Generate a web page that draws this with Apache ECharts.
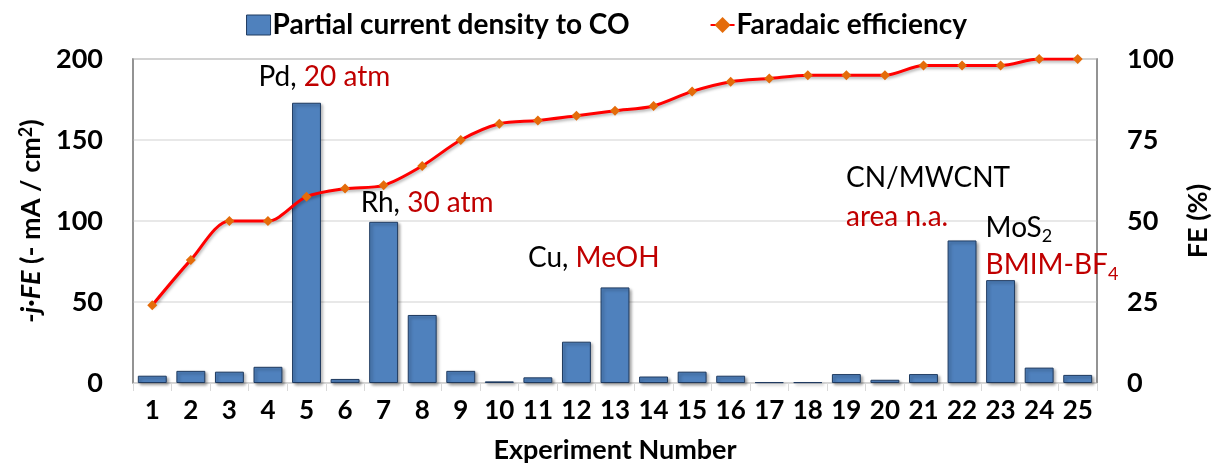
<!DOCTYPE html>
<html><head><meta charset="utf-8">
<script src="https://cdn.jsdelivr.net/npm/echarts@6/dist/echarts.min.js"></script>
<style>html,body{margin:0;padding:0;background:#fff}#c{width:1213px;height:463px}</style>
</head><body><div id="c"></div>
<script>
const categories = ['1','2','3','4','5','6','7','8','9','10','11','12','13','14','15','16','17','18','19','20','21','22','23','24','25'];
const currentDensity = [4.5,7.5,7,10,173,2.5,99.5,42,7.5,1,3.5,25.5,59,4,7,4.5,0.5,0.5,5.5,2,5.5,88,63.5,9.5,5];
const faradaicEff = [24,38,50,50,57.5,60,61,67,75,80,81,82.5,84,85.5,90,93,94,95,95,95,98,98,98,100,100];
const leftTicks = {min:0, max:200, interval:50};
const rightTicks = {min:0, max:100, interval:25};
const FONT = 'Lato, "Open Sans", sans-serif';
const RED = '#C00000';
const FS = 27;

const chart = echarts.init(document.getElementById('c'));
chart.setOption({
  animation:false,
  textStyle:{fontFamily:FONT},
  legend:{
    top:6, left:'center', itemGap:80, itemWidth:24, itemHeight:20,
    textStyle:{fontSize:28, fontWeight:'bold', color:'#000', fontFamily:FONT, padding:[0,0,0,-3]},
    data:[{name:'Partial current density to CO', icon:'rect', itemStyle:{borderColor:'#1f3a5f',borderWidth:1}},
          {name:'Faradaic efficiency'}]
  },
  grid:{left:133, right:116, top:59, bottom:80, containLabel:false, outerBoundsMode:'none',
    show:true, borderColor:'#8c8c8c', borderWidth:1.5},
  xAxis:{
    type:'category', data:categories,
    name:'Experiment Number', nameLocation:'middle', nameGap:54,
    nameTextStyle:{fontSize:FS, fontWeight:'bold', color:'#000', fontFamily:FONT},
    axisLine:{lineStyle:{color:'#d9d9d9'}},
    axisTick:{show:true, length:8, lineStyle:{color:'#d9d9d9'}},
    axisLabel:{interval:0, fontSize:26, fontWeight:'bold', color:'#000', margin:15, fontFamily:FONT}
  },
  yAxis:[{
    type:'value', min:leftTicks.min, max:leftTicks.max, interval:leftTicks.interval,
    name:'{i|-j·FE}{n| (- mA / cm}{s|2}{n|)}', nameLocation:'middle', nameGap:82,
    nameTextStyle:{rich:{
      i:{fontSize:FS, fontWeight:'bold', fontStyle:'italic', color:'#000', fontFamily:FONT},
      n:{fontSize:FS, fontWeight:'bold', color:'#000', fontFamily:FONT},
      s:{fontSize:18, fontWeight:'bold', color:'#000', fontFamily:FONT, padding:[0,0,10,0]}
    }},
    axisLine:{show:true, lineStyle:{color:'#8c8c8c', width:1.5}},
    axisTick:{show:false},
    splitLine:{lineStyle:{color:'#e0e0e0', width:1.5}},
    axisLabel:{fontSize:FS, fontWeight:'bold', color:'#000', margin:30, fontFamily:FONT}
  },{
    type:'value', min:rightTicks.min, max:rightTicks.max, interval:rightTicks.interval,
    name:'FE (%)', nameLocation:'middle', nameGap:64, nameRotate:90,
    nameTextStyle:{fontSize:FS, fontWeight:'bold', color:'#000', fontFamily:FONT},
    axisLine:{show:true, lineStyle:{color:'#8c8c8c', width:1.5}},
    axisTick:{show:false},
    splitLine:{show:false},
    axisLabel:{fontSize:FS, fontWeight:'bold', color:'#000', margin:30, fontFamily:FONT}
  }],
  series:[{
    name:'Partial current density to CO', type:'bar', data:currentDensity,
    barCategoryGap:'25%', yAxisIndex:0,
    itemStyle:{color:'#4F81BD', borderColor:'#1f3a5f', borderWidth:1,
      shadowBlur:3, shadowOffsetX:2, shadowOffsetY:2, shadowColor:'rgba(0,0,0,0.35)'}
  },{
    name:'Faradaic efficiency', type:'line', data:faradaicEff, yAxisIndex:1, smooth:0.3,
    symbol:'diamond', symbolSize:10,
    lineStyle:{color:'#FF0000', width:3, shadowBlur:3, shadowOffsetX:1, shadowOffsetY:2, shadowColor:'rgba(0,0,0,0.3)'},
    itemStyle:{color:'#E46C0A'}
  }]
});

// annotations anchored in data coordinates (category, left-axis value)
const annos = [
  {cat:'5', val:188.9, dx:-48, rich:'{k|Pd, }{r|20 atm}'},
  {cat:'7', val:111.1, dx:-23, rich:'{k|Rh, }{r|30 atm}'},
  {cat:'13', val:77.2, dx:-87, rich:'{k|Cu, }{r|MeOH}'},
  {cat:'22', val:126.5, dx:-116, rich:'{k|CN/MWCNT}'},
  {cat:'22', val:102.5, dx:-116, rich:'{r|area n.a.}'},
  {cat:'23', val:95.7, dx:-15, rich:'{k|MoS}{ks|2}'},
  {cat:'23', val:72.8, dx:-15, rich:'{r|BMIM-BF}{rs|4}'}
];
const AF = 28;
const richStyles = {
  k:{fontSize:AF, fill:'#000', fontFamily:FONT, height:30},
  r:{fontSize:AF, fill:RED, fontFamily:FONT, height:30},
  ks:{fontSize:18, fill:'#000', fontFamily:FONT, padding:[16,0,0,0]},
  rs:{fontSize:18, fill:RED, fontFamily:FONT, padding:[18,0,0,0]}
};
const g = annos.map(a=>{
  const p = chart.convertToPixel({xAxisIndex:0, yAxisIndex:0}, [a.cat, a.val]);
  return {type:'text', x:p[0]+a.dx, y:p[1], z:100,
    style:{text:a.rich, rich:richStyles, fontFamily:FONT, align:'left', verticalAlign:'middle'}};
});
chart.setOption({graphic:g});
</script></body></html>
